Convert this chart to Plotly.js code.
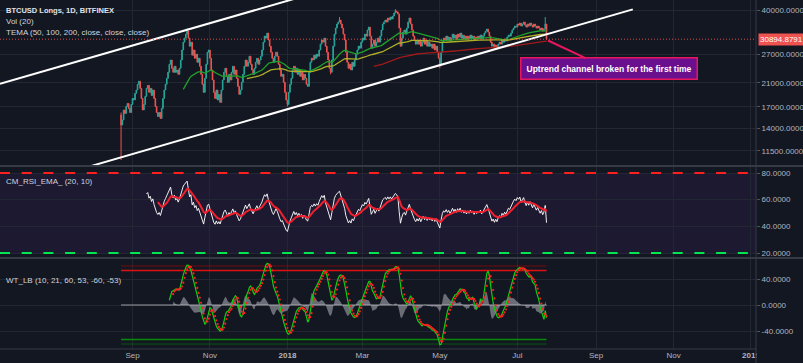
<!DOCTYPE html>
<html><head><meta charset="utf-8">
<script src="https://cdn.plot.ly/plotly-3.0.1.min.js"></script>
<style>html,body{margin:0;padding:0;background:#131722;}#chart{width:803px;height:363px;}</style>
</head><body><div id="chart"></div>
<script>
// ---------- data ----------
const startDate = '2017-08-23';
const closes = [
14460,15110,16510,16010,17040,17500,16740,16150,17340,18290,
18040,19130,19700,20720,21310,19990,18290,16510,17340,18620,
19990,20530,19300,19990,18790,19700,18290,17040,16150,15590,
16150,15320,16740,18290,19700,20720,21850,23050,24750,25700,
23880,23050,24310,23050,23520,22640,23880,25700,28070,30100,
31180,32310,33200,31180,29040,30100,26810,28070,26100,27050,
25190,26100,24310,22640,20720,19300,21850,24750,27530,28070,
26100,23520,21530,19300,18290,19700,18040,18960,17660,19700,
21530,23050,23880,22240,21090,22640,21530,23050,24310,22640,
23520,21850,20350,18960,19700,21090,22640,24310,25700,24310,
25190,26570,24750,23520,22640,23880,25190,26100,24750,25700,
26570,28070,30100,31740,31180,32600,30670,29040,27530,26100,
25190,26570,27530,26570,24750,23520,22240,22640,21090,19300,
18040,17340,19300,20720,21850,23520,24310,23050,23880,22640,
23520,22240,23050,21530,22640,21850,20720,20350,23050,25190,
26100,25700,26810,26100,27050,26570,28070,29570,30670,30100,
31180,29040,27530,25700,23880,23050,25700,29040,32310,34080,
35320,35950,36610,35320,34080,32310,30670,27530,25190,23880,
24750,23520,25190,24310,25700,27050,28070,29040,28530,30100,
31180,30670,32310,31740,33510,34390,31740,28530,29570,30670,
29040,30100,31180,30100,31740,33510,35320,35950,36610,35950,
37250,36610,37590,36930,37920,38950,39650,39300,38600,34080,
29040,31180,32890,33510,32310,34080,35950,37250,35320,33510,
31740,30670,29570,30670,29570,30670,29040,30100,31180,29570,
30670,29040,30100,29040,29570,28530,29570,28070,29040,27530,
26100,24750,27530,30100,31180,30670,31740,30670,31460,30380,
31180,32310,31180,32030,30930,32310,31460,32600,31180,32030,
30930,31740,30670,31740,30930,32030,31180,31740,30670,31460,
30930,31740,31180,32030,30930,31740,32600,33200,33800,32890,
31740,30100,29040,29570,28530,29300,28530,29570,30100,29570,
30670,30100,30930,30380,31460,32030,31740,32600,33510,34080,
34690,34390,35320,35000,35630,34690,35320,35950,35000,34390,
35320,34690,35630,35000,34390,35320,34690,34080,34690,34080,
33510,34080,33200,33800,35320,30894.8791
];
const firstOpen = 15790;
const highOverrides = {0:16150, 52:34000, 172:37600, 216:40300, 334:37590};
const lowOverrides = {0:10600, 131:17040, 251:23880, 165:22640};
const lastValue = 30894.8791;
const priceTicks = [11500,14000,17000,21000,27000,40000];
const priceTickText = ['11500.0000','14000.0000','17000.0000','21000.0000','27000.0000','40000.0000'];
const rsiTicks = [20,40,60,80];
const rsiTickText = ['20.0000','40.0000','60.0000','80.0000'];
const wtTicks = [-40,0,40];
const wtTickText = ['-40.0000','0.0000','40.0000'];
const monthTicks = ['2017-09-01','2017-11-01','2018-01-01','2018-03-01','2018-05-01','2018-07-01','2018-09-01','2018-11-01','2019-01-01'];
const monthLabels = ['Sep','Nov','<b>2018</b>','Mar','May','Jul','Sep','Nov','<b>2019</b>'];
const channelUpperX = ['2017-05-19 16:19','2018-01-10 21:00'];
const channelUpperY = [20800, 44800];
const channelLowerX = ['2017-07-28 00:00','2018-09-29 22:30'];
const channelLowerY = [9978, 40227];
const maLengths = [50,100,200];
const rsiLen = 20, rsiEmaLen = 10, rsiUpper = 80, rsiLower = 20;
const wtN1 = 10, wtN2 = 21, wtOb1 = 60, wtOb2 = 53, wtOs1 = -60, wtOs2 = -53;
const calloutX = '2018-07-25 04:00', calloutY = 30540;
const calloutText = 'Uptrend channel broken for the first time';

// ---------- derived series ----------
const N = closes.length;
const d0 = new Date(startDate + 'T00:00:00Z');
const dates = [];
for (let i=0;i<N;i++){ dates.push(new Date(d0.getTime()+i*86400000).toISOString().slice(0,10)); }
const opens = closes.map((c,i)=> i===0 ? firstOpen : closes[i-1]);
const highs = closes.map((c,i)=> highOverrides[i] !== undefined ? highOverrides[i] : Math.max(c, opens[i]));
const lows  = closes.map((c,i)=> lowOverrides[i]  !== undefined ? lowOverrides[i]  : Math.min(c, opens[i]));

function emaSma(src, len){ // pine-style ema, SMA seeded
  const out = new Array(src.length).fill(null); const a = 2/(len+1);
  const f = src.findIndex(v=>v!==null); const s = f+len-1;
  if (f<0 || s>=src.length) return out;
  let sum=0; for(let k=f;k<=s;k++) sum+=src[k]; out[s]=sum/len;
  for(let k=s+1;k<src.length;k++) out[k]=a*src[k]+(1-a)*out[k-1];
  return out;
}
function rmaSma(src, len){
  const out = new Array(src.length).fill(null);
  const f = src.findIndex(v=>v!==null); const s=f+len-1;
  if (f<0 || s>=src.length) return out;
  let sum=0; for(let k=f;k<=s;k++) sum+=src[k]; out[s]=sum/len;
  for(let k=s+1;k<src.length;k++) out[k]=(src[k]+(len-1)*out[k-1])/len;
  return out;
}
const mas = maLengths.map(l=>emaSma(closes,l));
// RSI
const gains=[null], losses=[null];
for(let k=1;k<N;k++){ const ch=closes[k]-closes[k-1]; gains.push(Math.max(ch,0)); losses.push(Math.max(-ch,0)); }
const ru = rmaSma(gains,rsiLen), rd = rmaSma(losses,rsiLen);
const rsi = ru.map((u,k)=> u===null ? null : (rd[k]===0 ? 100 : 100-100/(1+u/rd[k])));
const rsiEma = emaSma(rsi, rsiEmaLen);
// WaveTrend
const ap = closes.map((c,k)=>(highs[k]+lows[k]+c)/3);
const esa = emaSma(ap, wtN1);
const dev = emaSma(ap.map((v,k)=> esa[k]===null?null:Math.abs(v-esa[k])), wtN1);
const ci = ap.map((v,k)=> dev[k]===null?null:(v-esa[k])/(0.015*dev[k]));
const wt1 = emaSma(ci, wtN2);
const wt2 = wt1.map((v,k)=>{ if(k<3||wt1[k-3]===null) return null; return (wt1[k]+wt1[k-1]+wt1[k-2]+wt1[k-3])/4; });
const wtDiff = wt1.map((v,k)=> (v===null||wt2[k]===null)?null:v-wt2[k]);

// ---------- styling ----------
const FONT = 'Liberation Sans, Arial, sans-serif';
const BG = '#131722', GRID = '#232733', TXT = '#d1d4dc', TICK = '#b2b5be';
const UP = '#26a69a', DOWN = '#ef5350';
const xRange = ['2017-05-19 16:19','2019-01-04 22:48'];
const W = 756, H = 349;
const py = p => 1 - p/H;
const maColors = ['#1fa32a','#b0b025','#a11a1a'];

const traces = [
  {type:'candlestick', x:dates, open:opens, high:highs, low:lows, close:closes, xaxis:'x', yaxis:'y',
   increasing:{line:{color:UP,width:1}, fillcolor:UP}, decreasing:{line:{color:DOWN,width:1}, fillcolor:DOWN},
   whiskerwidth:0, hoverinfo:'skip', showlegend:false}
];
maLengths.forEach((l,j)=>traces.push({type:'scatter', mode:'lines', x:dates.slice(l-1), y:mas[j].slice(l-1), xaxis:'x', yaxis:'y',
  line:{color:maColors[j],width:1.3}, hoverinfo:'skip'}));
traces.push(
  {type:'scatter', mode:'lines', x:channelUpperX, y:channelUpperY, xaxis:'x', yaxis:'y', line:{color:'#ffffff',width:2}, hoverinfo:'skip'},
  {type:'scatter', mode:'lines', x:channelLowerX, y:channelLowerY, xaxis:'x', yaxis:'y', line:{color:'#ffffff',width:2}, hoverinfo:'skip'},
  {type:'scatter', mode:'lines', x:xRange, y:[lastValue,lastValue], xaxis:'x', yaxis:'y', line:{color:'rgba(239,83,80,0.9)',width:1,dash:'1px,2px'}, hoverinfo:'skip'},
  // RSI
  {type:'scatter', mode:'lines', x:dates, y:rsi, xaxis:'x', yaxis:'y2', line:{color:'rgba(255,255,255,0.92)',width:1}, hoverinfo:'skip'},
  {type:'scatter', mode:'lines', x:dates, y:rsiEma, xaxis:'x', yaxis:'y2', line:{color:'#f0202e',width:2}, hoverinfo:'skip'},
  // WT
  {type:'scatter', mode:'lines', x:dates, y:wtDiff, xaxis:'x', yaxis:'y3', fill:'tozeroy', fillcolor:'rgba(165,165,175,0.6)', line:{width:0,color:'rgba(0,0,0,0)'}, hoverinfo:'skip'},
  {type:'scatter', mode:'lines', x:[dates[0],dates[N-1]], y:[0,0], xaxis:'x', yaxis:'y3', line:{color:'rgba(190,190,195,0.8)',width:1}, hoverinfo:'skip'},
  {type:'scatter', mode:'lines', x:[dates[0],dates[N-1]], y:[wtOb1,wtOb1], xaxis:'x', yaxis:'y3', line:{color:'rgba(200,0,0,0.55)',width:1}, hoverinfo:'skip'},
  {type:'scatter', mode:'lines', x:[dates[0],dates[N-1]], y:[wtOb2,wtOb2], xaxis:'x', yaxis:'y3', line:{color:'#e01010',width:1.4}, hoverinfo:'skip'},
  {type:'scatter', mode:'lines', x:[dates[0],dates[N-1]], y:[wtOs2,wtOs2], xaxis:'x', yaxis:'y3', line:{color:'#0a8a0a',width:1.4}, hoverinfo:'skip'},
  {type:'scatter', mode:'lines', x:[dates[0],dates[N-1]], y:[wtOs1,wtOs1], xaxis:'x', yaxis:'y3', line:{color:'rgba(0,140,0,0.55)',width:1}, hoverinfo:'skip'},
  {type:'scatter', mode:'lines', x:dates, y:wt1, xaxis:'x', yaxis:'y3', line:{color:'#10d010',width:1.2}, hoverinfo:'skip'},
  {type:'scatter', mode:'markers', x:dates, y:wt2, xaxis:'x', yaxis:'y3', marker:{color:'#ff2020',size:2.2}, hoverinfo:'skip'}
);

const yCommon = {side:'right', anchor:'x', gridcolor:GRID, gridwidth:1, zeroline:false, showline:false,
  ticks:'outside', ticklen:3, tickcolor:'#50535e', tickfont:{family:FONT,size:8,color:TICK}, fixedrange:true};

const layout = {
  width:803, height:363, margin:{l:0,r:47,t:0,b:14},
  paper_bgcolor:BG, plot_bgcolor:BG, showlegend:false,
  font:{family:FONT, color:TXT},
  xaxis:{type:'date', range:xRange, anchor:'y3', tickvals:monthTicks, ticktext:monthLabels,
    showgrid:true, gridcolor:GRID, ticks:'', tickfont:{family:FONT,size:8,color:TICK},
    rangeslider:{visible:false}, zeroline:false, showline:false, fixedrange:true},
  yaxis:Object.assign({}, yCommon, {domain:[py(166),1], type:'log', range:[4.00251,4.64049], tickvals:priceTicks, ticktext:priceTickText}),
  yaxis2:Object.assign({}, yCommon, {domain:[py(258),py(166)], range:[16.25,85.25], tickvals:rsiTicks, ticktext:rsiTickText}),
  yaxis3:Object.assign({}, yCommon, {domain:[0,py(258)], range:[-67.69,72.31], tickvals:wtTicks, ticktext:wtTickText}),
  shapes:[
    {type:'rect', xref:'paper', yref:'y2', x0:0, x1:1, y0:rsiLower, y1:rsiUpper, fillcolor:'#1d1930', line:{width:0}, layer:'below'},
    {type:'line', xref:'paper', yref:'y2', x0:0, x1:1, y0:rsiUpper, y1:rsiUpper, line:{color:'#ff1f1f',width:2,dash:'10px,11.7px'}},
    {type:'line', xref:'paper', yref:'y2', x0:0, x1:1, y0:rsiLower, y1:rsiLower, line:{color:'#00e650',width:2,dash:'10px,11.7px'}},
    {type:'line', xref:'paper', yref:'paper', x0:0, x1:1.07, y0:py(166), y1:py(166), line:{color:'#363a45',width:2}},
    {type:'line', xref:'paper', yref:'paper', x0:0, x1:1.07, y0:py(258), y1:py(258), line:{color:'#363a45',width:2}},
    {type:'rect', xref:'paper', yref:'paper', x0:1.001, x1:1.07, y0:-0.06, y1:-0.002, fillcolor:BG, line:{width:0}, layer:'above'},
    {type:'line', xref:'paper', yref:'paper', x0:0, x1:1, y0:0, y1:0, line:{color:'#363a45',width:1}},
    {type:'line', xref:'paper', yref:'paper', x0:1, x1:1, y0:-0.06, y1:1, line:{color:'#363a45',width:1}}
  ],
  annotations:[
    {xref:'paper', yref:'paper', x:3.5/W, y:py(10.7), xanchor:'left', yanchor:'middle', showarrow:false, text:'<b>BTCUSD Longs, 1D, BITFINEX</b>', font:{family:FONT,size:7.5,color:'#e0e3eb'}},
    {xref:'paper', yref:'paper', x:3.5/W, y:py(21.2), xanchor:'left', yanchor:'middle', showarrow:false, text:'Vol (20)', font:{family:FONT,size:8,color:TXT}},
    {xref:'paper', yref:'paper', x:3.5/W, y:py(32.7), xanchor:'left', yanchor:'middle', showarrow:false, text:'TEMA (50, 100, 200, close, close, close)', font:{family:FONT,size:8,color:TXT}},
    {xref:'paper', yref:'paper', x:3.5/W, y:py(181), xanchor:'left', yanchor:'middle', showarrow:false, text:'CM_RSI_EMA_ (20, 10)', font:{family:FONT,size:8,color:TXT}},
    {xref:'paper', yref:'paper', x:3.5/W, y:py(280), xanchor:'left', yanchor:'middle', showarrow:false, text:'WT_LB (10, 21, 60, 53, -60, -53)', font:{family:FONT,size:8,color:TXT}},
    {xref:'paper', yref:'y', x:1, y:Math.log10(lastValue), xanchor:'left', yanchor:'middle', xshift:2, showarrow:false,
     text:'30894.8791', bgcolor:'#ef5350', borderpad:1, font:{family:FONT,size:8,color:'#ffffff'}},
    {xref:'x', yref:'y', x:calloutX, y:Math.log10(calloutY), ax:60.7, ay:28.3, axref:'pixel', ayref:'pixel',
     showarrow:true, arrowhead:0, arrowwidth:2, arrowcolor:'#e8175d', standoff:0,
     text:'<b>'+calloutText+'</b>', font:{family:FONT,size:8.5,color:'#ffffff'},
     bgcolor:'#6a108f', bordercolor:'#e8175d', borderwidth:1.5, borderpad:5}
  ]
};
Plotly.newPlot('chart', traces, layout, {staticPlot:true, displayModeBar:false});
</script>
</body></html>
